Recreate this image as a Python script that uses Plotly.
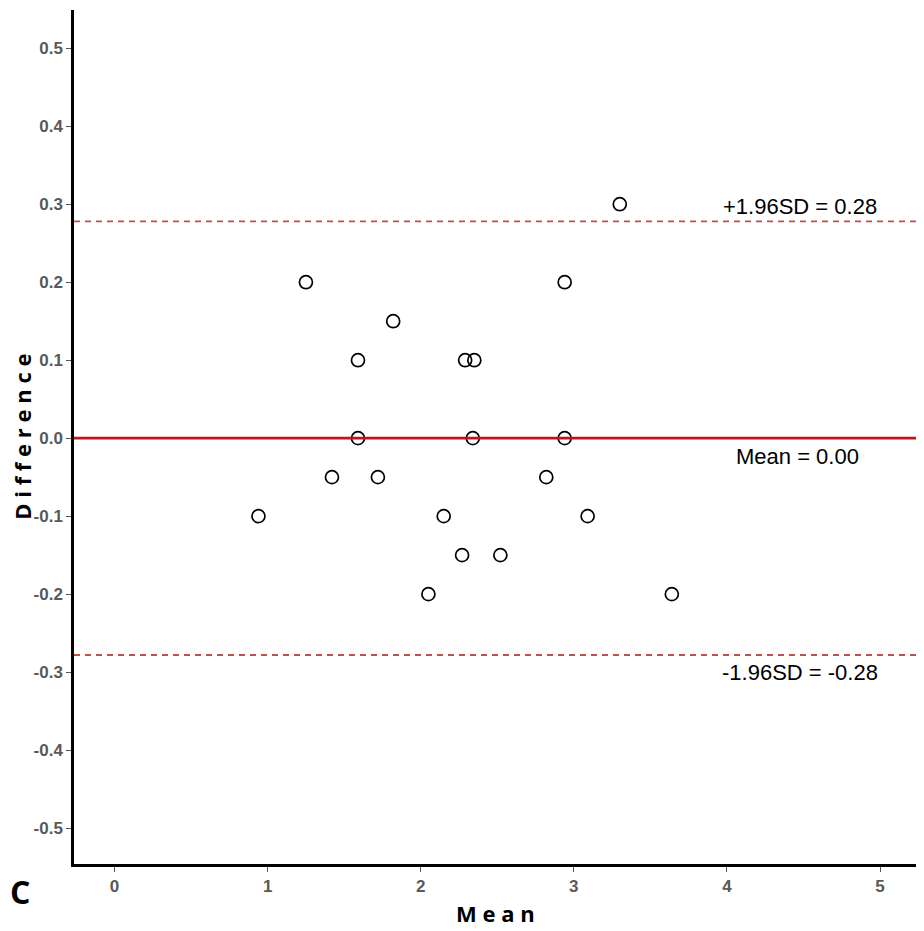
import plotly.graph_objects as go

# Data (Bland-Altman)
mean_vals = [0.94, 1.25, 1.42, 1.59, 1.59, 1.72, 1.82, 2.05, 2.15, 2.27, 2.29, 2.35, 2.34,
             2.52, 2.82, 2.94, 2.94, 3.09, 3.30, 3.64]
diff_vals = [-0.10, 0.20, -0.05, 0.10, 0.00, -0.05, 0.15, -0.20, -0.10, -0.15, 0.10, 0.10, 0.00,
             -0.15, -0.05, 0.20, 0.00, -0.10, 0.30, -0.20]
mean_diff = 0.00
upper_loa = 0.278
lower_loa = -0.278
x_ticks = [0, 1, 2, 3, 4, 5]
y_ticks = [-0.5, -0.4, -0.3, -0.2, -0.1, 0.0, 0.1, 0.2, 0.3, 0.4, 0.5]
x_tick_text = [f"<b>{v}</b>" for v in x_ticks]
y_tick_text = [f"<b>{v:.1f}</b>" for v in y_ticks]
label_upper = "+1.96SD = 0.28"
label_mean = "Mean = 0.00"
label_lower = "-1.96SD = -0.28"

X_RANGE = [-0.265, 5.235]
Y_RANGE = [-0.546, 0.549]

fig = go.Figure()

fig.add_trace(go.Scatter(
    x=mean_vals, y=diff_vals, mode="markers",
    marker=dict(symbol="circle-open", size=13, color="black", line=dict(width=1.7, color="black")),
    showlegend=False, hoverinfo="x+y"))

fig.add_shape(type="line", xref="paper", x0=0, x1=1, yref="y", y0=upper_loa, y1=upper_loa,
              line=dict(color="#c0504d", width=1.8, dash="6px,5px"))
fig.add_shape(type="line", xref="paper", x0=0, x1=1, yref="y", y0=lower_loa, y1=lower_loa,
              line=dict(color="#c0504d", width=1.8, dash="6px,5px"))
fig.add_shape(type="line", xref="paper", x0=0, x1=1, yref="y", y0=mean_diff, y1=mean_diff,
              line=dict(color="#c1131a", width=2.8))

ann_font = dict(family="Liberation Sans, Arial, sans-serif", size=22, color="black")
fig.add_annotation(x=4.48, y=upper_loa, text=label_upper, showarrow=False, yshift=15, font=ann_font)
fig.add_annotation(x=4.46, y=mean_diff, text=label_mean, showarrow=False, yshift=-18, font=ann_font)
fig.add_annotation(x=4.48, y=lower_loa, text=label_lower, showarrow=False, yshift=-18, font=ann_font)

# axis titles and panel label
fig.add_annotation(xref="paper", yref="paper", x=-0.062, y=0.5, text="<b>D i f f e r e n c e</b>",
                   textangle=-90, showarrow=False, xanchor="center", yanchor="middle", borderpad=0,
                   font=dict(family="Open Sans, sans-serif", size=22, color="black"))
fig.add_annotation(xref="paper", yref="paper", x=0.5, y=-0.057, text="<b>M e a n</b>",
                   showarrow=False, yanchor="middle",
                   font=dict(family="Open Sans, sans-serif", size=22, color="black"))
fig.add_annotation(xref="paper", yref="paper", x=-0.064, y=-0.032, text="<b>C</b>",
                   showarrow=False, xanchor="center", yanchor="middle",
                   font=dict(family="Open Sans, sans-serif", size=32, color="black"))

tick_font = dict(family="Liberation Sans, Arial, sans-serif", size=17, color="#595959")

fig.update_xaxes(range=X_RANGE, tickvals=x_ticks, ticktext=x_tick_text, showgrid=False, zeroline=False,
                 showline=True, linecolor="black", linewidth=2.5,
                 ticks="outside", ticklen=5, tickwidth=1.2, tickcolor="#555555",
                 tickfont=tick_font)
fig.update_yaxes(range=Y_RANGE, tickvals=y_ticks, ticktext=y_tick_text, showgrid=False, zeroline=False,
                 showline=True, linecolor="black", linewidth=2.5,
                 ticks="outside", ticklen=5, tickwidth=1.2, tickcolor="#555555",
                 tickfont=tick_font)

# page body has an 8px margin; size/margins compensate so the plot area lands where it should
fig.update_layout(width=916, height=923, margin=dict(l=66, r=8, t=2, b=67),
                  plot_bgcolor="white", paper_bgcolor="white",
                  font=dict(family="Liberation Sans, Arial, sans-serif"))

fig.write_html("out.html")
